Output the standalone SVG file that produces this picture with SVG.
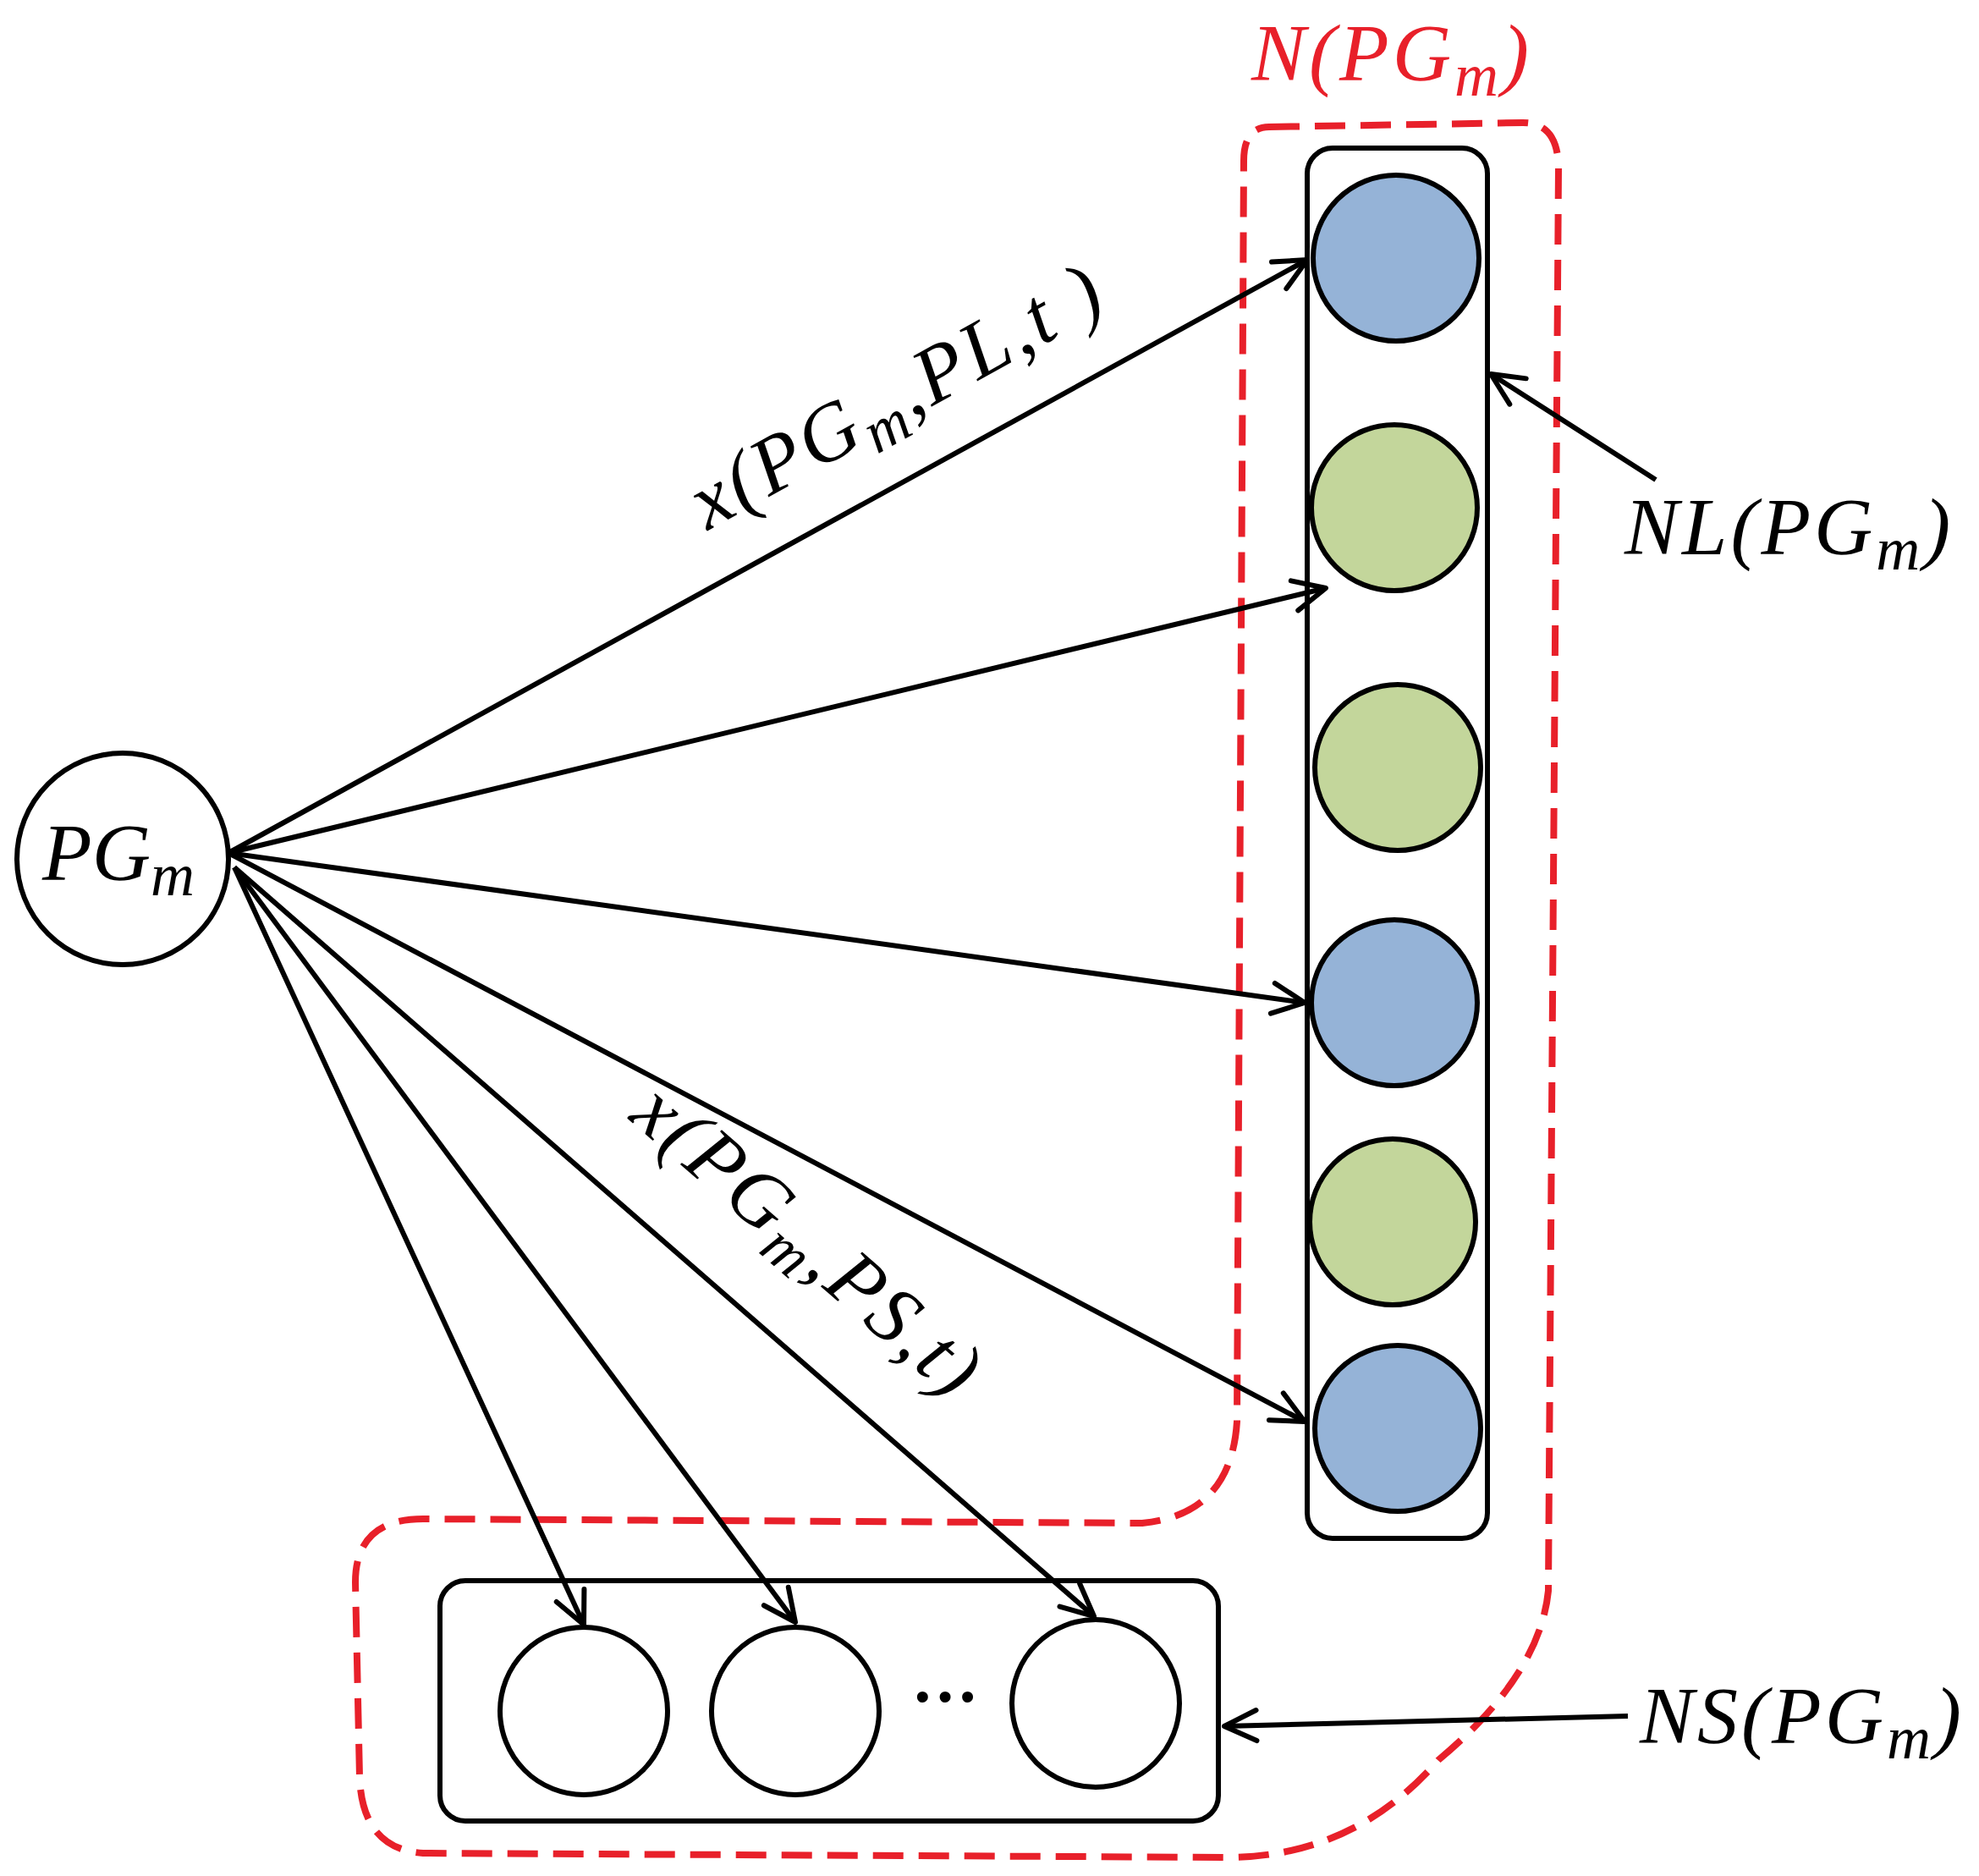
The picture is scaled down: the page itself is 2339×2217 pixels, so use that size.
<svg xmlns="http://www.w3.org/2000/svg" width="2339" height="2217" viewBox="0 0 2339 2217">
<defs>
<style>
.n{stroke:#000;stroke-width:6}
.b{fill:#95b3d7}.g{fill:#c3d69b}.w{fill:#fff}
.t{font-family:"Liberation Serif",serif;font-style:italic;font-size:96px}
.c line{stroke:#000;stroke-width:6;marker-end:url(#a)}
</style>
<marker id="a" viewBox="-4 -4 48 48" refX="40" refY="20" markerWidth="48" markerHeight="48" markerUnits="userSpaceOnUse" orient="auto">
<polyline points="2,2 40,20 2,38" fill="none" stroke="#000" stroke-width="6" stroke-linecap="round" stroke-linejoin="round"/>
</marker>
</defs>
<rect width="2339" height="2217" fill="#fff"/>
<path d="M1500,150 L1800,145 Q1842,145 1842,200 L1830,1880 Q1820,1980 1700,2080 Q1600,2195 1450,2195 L500,2190 Q428,2185 425,2100 L420,1870 Q420,1795 500,1795 L1350,1800 Q1455,1790 1462,1680 L1470,190 Q1470,150 1500,150 Z" fill="none" stroke="#e8202a" stroke-width="8" stroke-dasharray="36 18"/>
<g id="col"><rect x="1545" y="175" width="213" height="1643" rx="30" fill="none" class="n"/></g>
<g id="row"><rect x="520" y="1868" width="920" height="284" rx="30" fill="none" class="n"/></g>
<g id="pg"><circle cx="145" cy="1015" r="125" class="n w"/><text x="140" y="1040" text-anchor="middle" class="t">PG<tspan dy="18" font-size="72">m</tspan></text></g>
<g id="c1"><circle cx="1650" cy="305" r="98" class="n b"/></g>
<g id="c2"><circle cx="1648" cy="600" r="98" class="n g"/></g>
<g id="c3"><circle cx="1652" cy="907" r="98" class="n g"/></g>
<g id="c4"><circle cx="1648" cy="1185" r="98" class="n b"/></g>
<g id="c5"><circle cx="1646" cy="1444" r="98" class="n g"/></g>
<g id="c6"><circle cx="1652" cy="1688" r="98" class="n b"/></g>
<g id="s1"><circle cx="690" cy="2022" r="99" class="n w"/></g>
<g id="s2"><circle cx="940" cy="2022" r="99" class="n w"/></g>
<g id="s3"><circle cx="1295" cy="2013" r="99" class="n w"/></g>
<text x="1117" y="2032" text-anchor="middle" font-family="Liberation Serif,serif" font-size="80" font-weight="bold">···</text>
<g class="c" id="connectors">
<line x1="270" y1="1008" x2="1545" y2="307"/>
<line x1="270" y1="1008" x2="1567" y2="695"/>
<line x1="270" y1="1008" x2="1542" y2="1185"/>
<line x1="270" y1="1008" x2="1542" y2="1680"/>
<line x1="277" y1="1025" x2="690" y2="1920"/>
<line x1="277" y1="1025" x2="940" y2="1917"/>
<line x1="277" y1="1025" x2="1293" y2="1910"/>
<line x1="1957" y1="567" x2="1762" y2="442"/>
<line x1="1924" y1="2028" x2="1447" y2="2040"/>
</g>
<text class="t" x="1645" y="95" text-anchor="middle" fill="#e8202a" letter-spacing="4">N(PG<tspan dy="18" font-size="72">m</tspan><tspan dy="-18">)</tspan></text>
<text class="t" x="1920" y="655" letter-spacing="4">NL(PG<tspan dy="18" font-size="72">m</tspan><tspan dy="-18">)</tspan></text>
<text class="t" x="1938" y="2060" letter-spacing="4">NS(PG<tspan dy="18" font-size="72">m</tspan><tspan dy="-18">)</tspan></text>
<text class="t" transform="translate(1075,495) rotate(-29)" text-anchor="middle" letter-spacing="4">x(PG<tspan dy="18" font-size="72">m</tspan><tspan dy="-18">,PL,t )</tspan></text>
<text class="t" transform="translate(935,1490) rotate(41)" text-anchor="middle" letter-spacing="4">x(PG<tspan dy="18" font-size="72">m</tspan><tspan dy="-18">,PS,t)</tspan></text>
</svg>
